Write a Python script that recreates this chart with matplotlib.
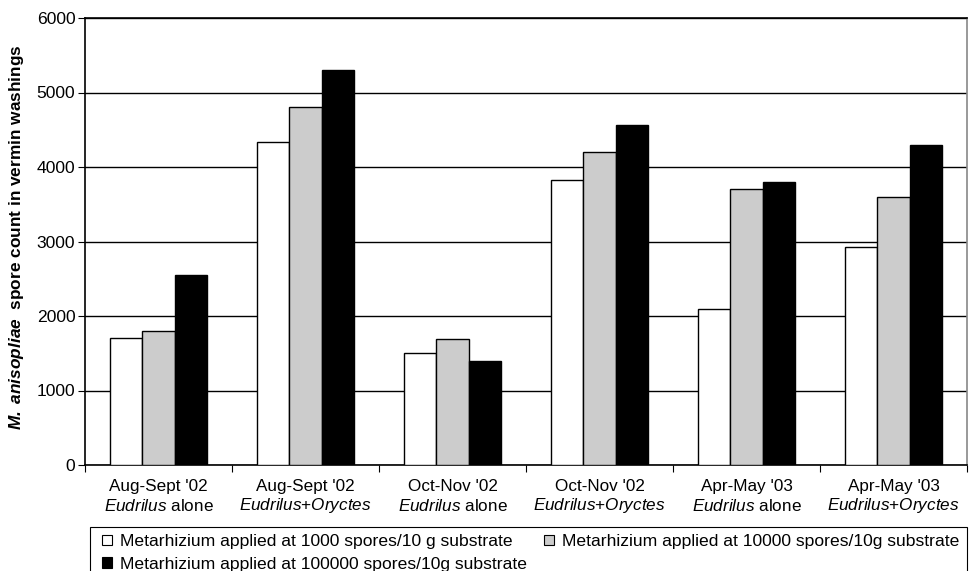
import numpy as np
import matplotlib
matplotlib.use('Agg')
import matplotlib.pyplot as plt
from matplotlib.patches import Patch, Rectangle

plt.rcParams['font.family'] = ['Liberation Sans', 'DejaVu Sans']
plt.rcParams['mathtext.fontset'] = 'custom'
plt.rcParams['mathtext.rm'] = 'Liberation Sans'
plt.rcParams['mathtext.it'] = 'Liberation Sans:italic'
plt.rcParams['mathtext.bf'] = 'Liberation Sans:bold'
plt.rcParams['mathtext.bfit'] = 'Liberation Sans:bold:italic'

periods = ["Aug-Sept '02", "Aug-Sept '02", "Oct-Nov '02", "Oct-Nov '02", "Apr-May '03", "Apr-May '03"]
alone = [True, False, True, False, True, False]
low = [1700, 4330, 1500, 3820, 2100, 2920]
mid = [1800, 4800, 1690, 4200, 3700, 3600]
high = [2550, 5300, 1390, 4560, 3800, 4300]
series_labels = ["Metarhizium applied at 1000 spores/10 g substrate",
                 "Metarhizium applied at 10000 spores/10g substrate",
                 "Metarhizium applied at 100000 spores/10g substrate"]
colors = ['white', '#cccccc', 'black']

fig = plt.figure(figsize=(9.73, 5.71), dpi=100)
ax = fig.add_axes([85/973, 1-465/571, (967-85)/973, (465-18)/571])

x = np.arange(len(periods))
w = 0.222
for i, (vals, c) in enumerate(zip([low, mid, high], colors)):
    ax.bar(x + (i-1)*w, vals, w, color=c, edgecolor='black', linewidth=1.0, zorder=3)

ax.set_xlim(-0.5, len(periods)-0.5)
ax.set_ylim(0, 6000)
ax.set_yticks(range(0, 6001, 1000))
ax.yaxis.grid(True, color='black', linewidth=1.0, zorder=0)
ax.tick_params(axis='y', direction='out', length=5, labelsize=12.6, pad=2)

ax.set_xticks(np.arange(-0.5, len(periods)))
ax.set_xticklabels([])
ax.tick_params(axis='x', direction='out', length=5)
for xi, p, a in zip(x, periods, alone):
    ax.text(xi, -295, p, ha='center', va='center', fontsize=12.3)
    if a:
        lab = r"$\mathit{Eudrilus}$ alone"
    else:
        lab = r"$\mathit{Eudrilus{+}Oryctes}$"
    ax.text(xi, -550, lab, ha='center', va='center', fontsize=12.3)

for s in ['left', 'bottom', 'top']:
    ax.spines[s].set_color('black')
    ax.spines[s].set_linewidth(1.2)
ax.spines['right'].set_color('#888888')
ax.spines['right'].set_linewidth(1.2)

ax.set_ylabel(r"$\mathbfit{M.\ anisopliae}$  spore count in vermin washings",
              fontsize=12.4, fontweight='bold')
ax.yaxis.set_label_coords(-0.067, 0.51)

# legend frame
fig.add_artist(Rectangle((90/973, -0.01), (967-90)/973, 1-527/571+0.01,
                         transform=fig.transFigure, facecolor='white',
                         edgecolor='black', linewidth=0.8))
handles = [Patch(facecolor=c, edgecolor='black', linewidth=0.8) for c in colors]
leg = fig.legend([handles[0], handles[2], handles[1]],
                 [series_labels[0], series_labels[2], series_labels[1]],
                 ncol=2, loc='upper left', bbox_to_anchor=(102/973, 1-534/571),
                 frameon=False, fontsize=12.6,
                 handlelength=0.55, handleheight=0.55, handletextpad=0.45, borderaxespad=0,
                 labelspacing=0.45, columnspacing=1.0, borderpad=0)

fig.savefig('out.png', dpi=100)
